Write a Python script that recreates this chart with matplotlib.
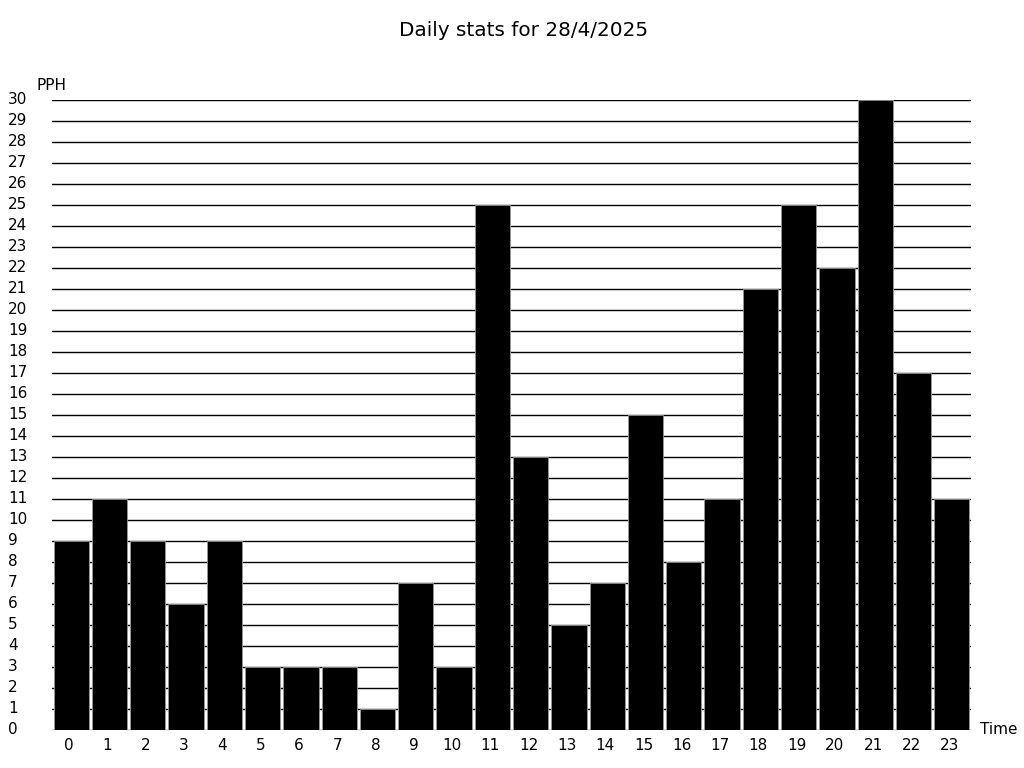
import matplotlib
matplotlib.use("Agg")
import matplotlib.pyplot as plt
from matplotlib.transforms import ScaledTranslation

hours = list(range(24))
hour_labels = [str(h) for h in hours]
pph = [9, 11, 9, 6, 9, 3, 3, 3, 1, 7, 3, 25, 13, 5, 7, 15, 8, 11, 21, 25, 22, 30, 17, 11]
y_ticks = list(range(0, 31))

fig = plt.figure(figsize=(10.24, 7.68), dpi=100)
W, H = 1024, 768
ax = fig.add_axes([52 / W, (H - 730) / H, (971 - 52) / W, (730 - 100) / H])

ax.bar(hours, pph, width=0.92, color="black", edgecolor="#999999", linewidth=0.6, zorder=2)
ax.set_xlim(-0.5, 23.5)
ax.set_ylim(0, 30)
ax.set_yticks(y_ticks)
ax.set_yticklabels([str(v) for v in y_ticks])
ax.set_xticks(hours)
ax.set_xticklabels(hour_labels)
for s in ax.spines.values():
    s.set_visible(False)
ax.yaxis.grid(True, color="black", linewidth=1.0, zorder=1)
ax.set_axisbelow(True)
ax.tick_params(axis="y", length=0, labelsize=11, pad=44 * 0.72)
shift_up = ScaledTranslation(0, 2 / 100, fig.dpi_scale_trans)
for lbl in ax.get_yticklabels():
    lbl.set_horizontalalignment("left")
    lbl.set_transform(lbl.get_transform() + shift_up)
ax.tick_params(axis="x", length=0, labelsize=11, pad=6)
shift_left = ScaledTranslation(-2 / 100, 0, fig.dpi_scale_trans)
for lbl in ax.get_xticklabels():
    lbl.set_transform(lbl.get_transform() + shift_left)

fig.text(37 / W, 1 - 85 / H, "PPH", fontsize=11, ha="left", va="center")
fig.text(980 / W, 1 - 730 / H, "Time", fontsize=11, ha="left", va="center")
fig.text(524 / W, 1 - 30 / H, "Daily stats for 28/4/2025", fontsize=14.4, ha="center", va="center")

fig.savefig("out.png", dpi=100)
